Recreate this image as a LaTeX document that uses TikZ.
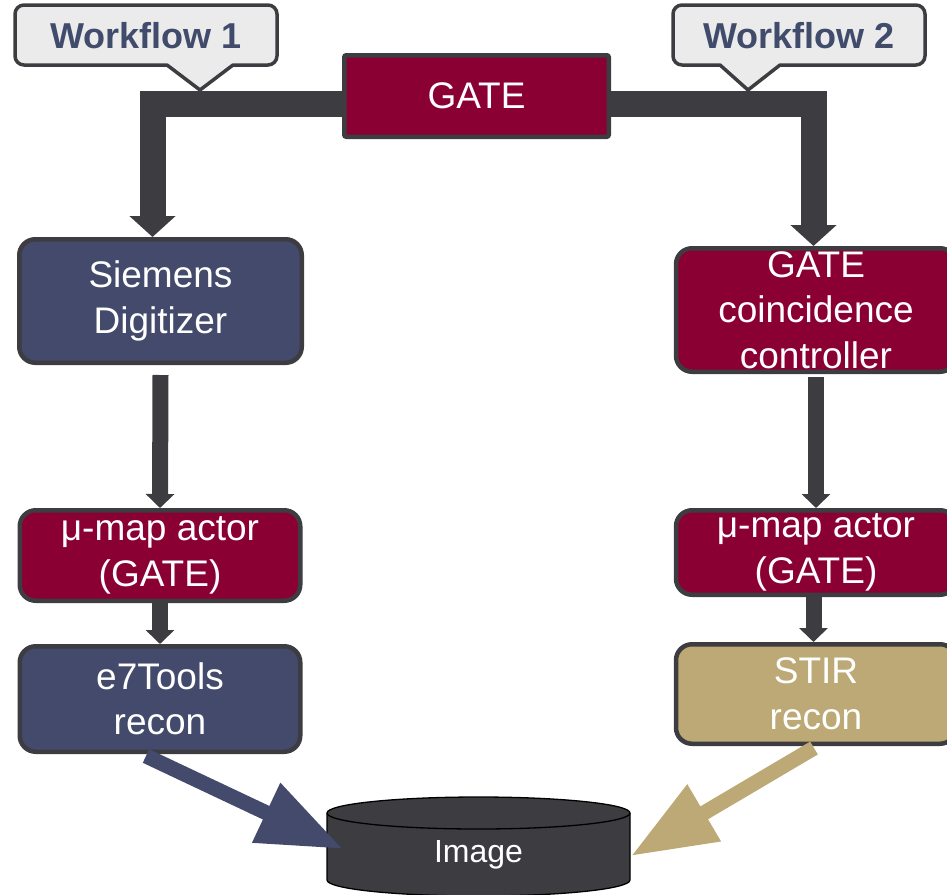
\documentclass[tikz,border=0pt]{standalone}
\usepackage{fontspec}
\setmainfont{Liberation Sans}
\usetikzlibrary{arrows.meta}
\pgfdeclarelayer{bg}
\pgfsetlayers{bg,main}
\definecolor{navy}{HTML}{434A6B}
\definecolor{crimson}{HTML}{8B0033}
\definecolor{tanc}{HTML}{BCA976}
\definecolor{dgray}{HTML}{3D3C41}
\definecolor{lgray}{HTML}{EBEBEB}
\definecolor{wftext}{HTML}{414B6B}
\tikzset{
  box/.style={draw=dgray, line width=4.5pt, text=white, align=center, inner sep=0pt,
    rounded corners=16pt, font=\fontsize{37}{45.5}\selectfont},
  navybox/.style={box, fill=navy},
  redbox/.style={box, fill=crimson},
  tanbox/.style={box, fill=tanc},
  callout/.style={fill=lgray, draw=dgray, line width=3.5pt, line join=round},
  wflabel/.style={text=wftext, font=\fontsize{36}{40}\selectfont\bfseries, inner sep=0pt},
  elbowarrow/.style={draw=dgray, line width=26pt, line join=miter,
    -{Triangle[length=21pt,width=45pt]}},
  smallarrow/.style={draw=dgray, line width=16pt, -{Triangle[length=14pt,width=28pt]}},
  bigarrow/.style={line width=15pt, -{Triangle[length=85pt,width=62pt]}},
}
\begin{document}
\begin{tikzpicture}[x=1pt,y=1pt]
\useasboundingbox (0,0) rectangle (947,-894);
% callouts
\draw[callout] (200,-90) -- (167,-65) [rounded corners=9pt] -- (15,-65) -- (15,-5) -- (277,-5) -- (277,-65) [sharp corners] -- (233,-65) -- cycle;
\node[wflabel] (wf1) at (146,-36) {Workflow 1};
\draw[callout] (748,-90) -- (720,-65) [rounded corners=9pt] -- (673,-65) -- (673,-5) -- (925,-5) -- (925,-65) [sharp corners] -- (780,-65) -- cycle;
\node[wflabel] (wf2) at (799,-36) {Workflow 2};
% boxes
\node[redbox, rounded corners=2pt, minimum width=264.5pt, minimum height=81.5pt] (gate) at (476.5,-96) {GATE};
\node[navybox, minimum width=282.5pt, minimum height=123.5pt] (sd) at (160.5,-301) {Siemens\\Digitizer};
\node[redbox, minimum width=280pt, minimum height=123.5pt] (coinc) at (816,-310) {GATE\\coincidence\\controller};
\node[redbox, minimum width=280.5pt, minimum height=90.5pt] (mu1) at (160,-555.5) {μ-map actor\\(GATE)};
\node[redbox, minimum width=280pt, minimum height=84.5pt] (mu2) at (816,-552.5) {μ-map actor\\(GATE)};
\node[navybox, minimum width=280.5pt, minimum height=105.5pt] (e7) at (160,-699) {e7Tools\\recon};
\node[tanbox, minimum width=280pt, minimum height=99.5pt] (stir) at (816,-694) {STIR\\recon};
% connectors under boxes
\begin{pgfonlayer}{bg}
\draw[elbowarrow] ([yshift=-8pt]gate.west) -| ([xshift=-8pt]sd.north);
\draw[elbowarrow] ([yshift=-8pt]gate.east) -| ([xshift=-2.5pt]coinc.north);
\draw[smallarrow] ([yshift=-10pt]sd.south) -- (mu1.north);
\draw[smallarrow] ([yshift=-3pt]coinc.south) -- (mu2.north);
\draw[smallarrow] (mu1.south) -- (e7.north);
\draw[smallarrow] ([xshift=-2.5pt]mu2.south) -- ([xshift=-2.5pt]stir.north);
\end{pgfonlayer}
% cylinder
\draw[fill=dgray, draw=black, line width=1.3pt] (327,-813) -- (327,-880)
  arc[start angle=180, end angle=360, x radius=151.5, y radius=16] -- (630,-813)
  arc[start angle=0, end angle=180, x radius=151.5, y radius=16] -- cycle;
\draw[black, line width=1.3pt] (327,-813) arc[start angle=180, end angle=360, x radius=151.5, y radius=16];
\node[text=white, font=\fontsize{32}{36}\selectfont, inner sep=0pt] (img) at (478.5,-855) {Image};
\coordinate (ntip) at (343,-849);
\coordinate (ttip) at (631,-856);
\draw[bigarrow, navy] ([xshift=-14pt,yshift=-2pt]e7.south) -- (ntip);
\draw[bigarrow, tanc] ([xshift=-2pt,yshift=-2pt]stir.south) -- (ttip);
\end{tikzpicture}
\end{document}
